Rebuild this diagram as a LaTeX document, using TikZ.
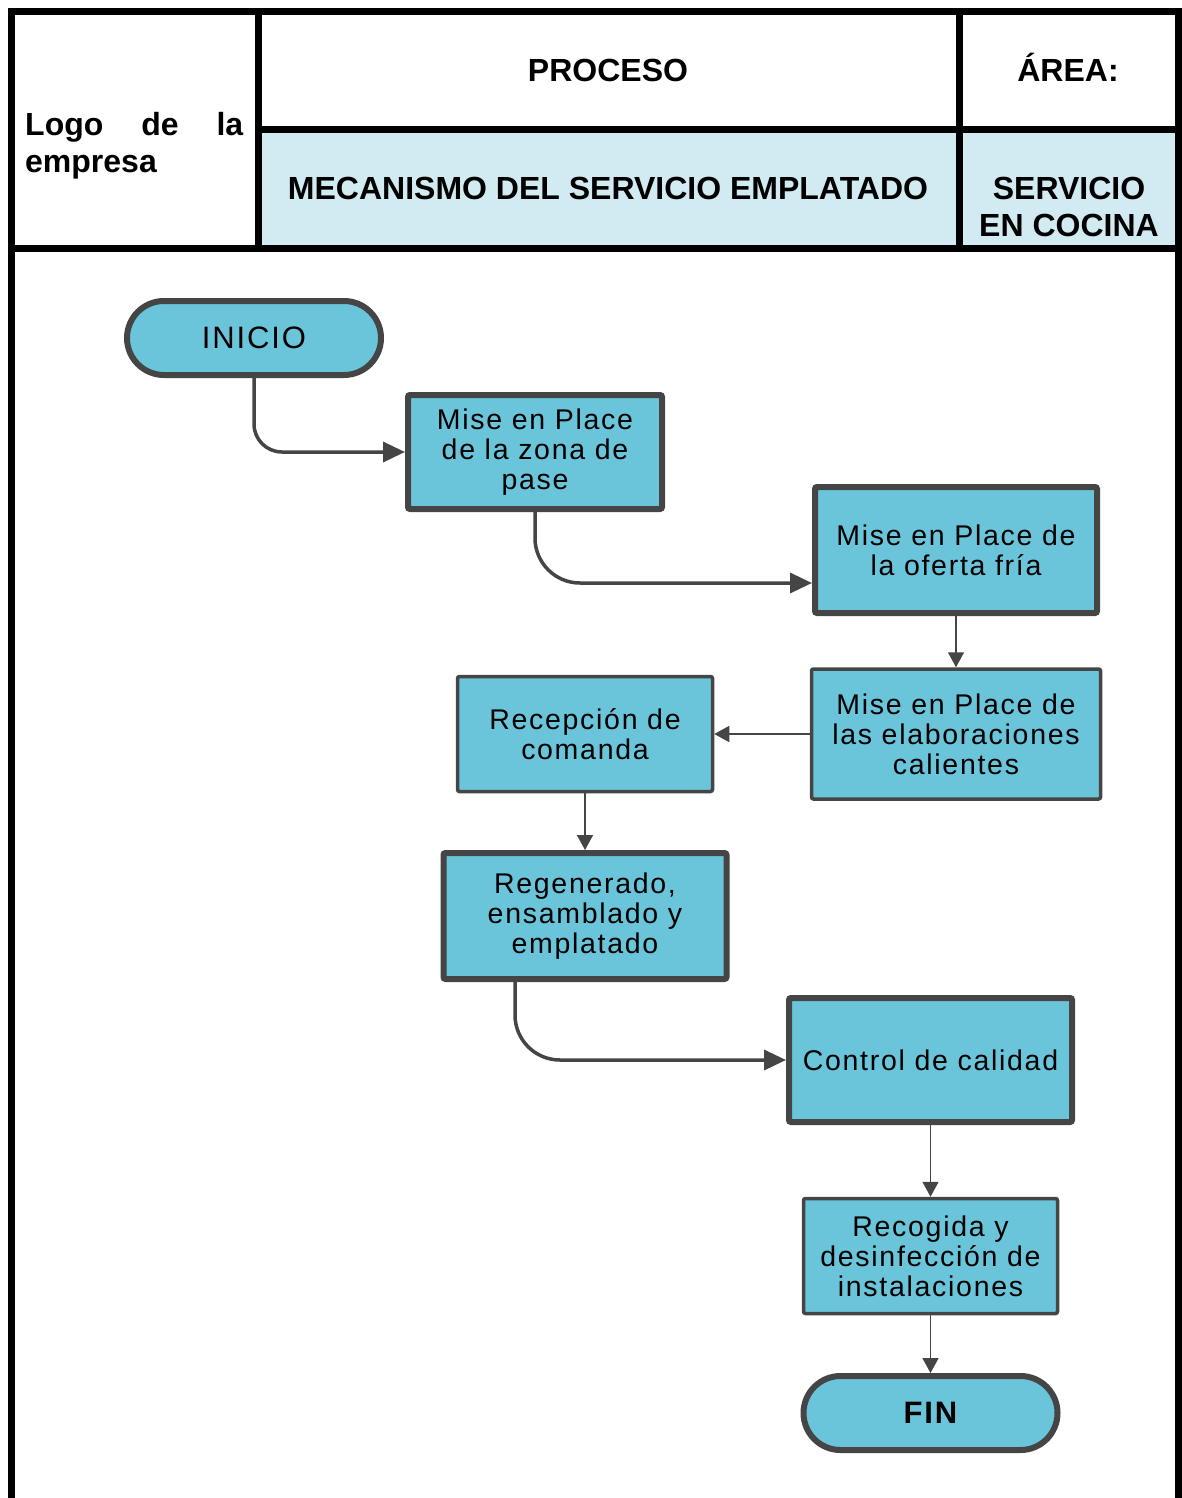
\documentclass[tikz,border=0pt]{standalone}
\usepackage{fontspec}
\setmainfont{Liberation Sans}
\newfontfamily\boxfont[LetterSpace=6]{Liberation Sans}
\usetikzlibrary{arrows.meta}
\definecolor{boxfill}{RGB}{106,196,218}
\definecolor{edge}{RGB}{69,69,69}
\definecolor{hdrfill}{RGB}{210,234,241}
\begin{document}
\begin{tikzpicture}[x=1pt,y=-1pt,
  frameline/.style={line width=7pt,black},
  hdr/.style={font=\bfseries\fontsize{32}{37}\selectfont,inner sep=0pt,align=center},
  proc/.style={draw=edge,fill=boxfill,rounded corners=2pt,align=center,inner sep=0pt,
     font=\boxfont\fontsize{28.5}{30}\selectfont},
  thickbox/.style={proc,line width=6pt},
  thinbox/.style={proc,line width=3.5pt},
  term/.style={draw=edge,fill=boxfill,line width=6pt,rounded corners=37pt,inner sep=0pt,
     minimum width=254pt,minimum height=74pt,font=\boxfont\fontsize{31}{34}\selectfont},
  bigconn/.style={draw=edge,line width=3.5pt,-{Triangle[length=22pt,width=20pt]}},
  smallconn/.style={draw=edge,line width=1.5pt,-{Triangle[length=15pt,width=16pt]}}
]
\useasboundingbox (0,0) rectangle (1181,1498);
% header
\fill[hdrfill] (258,130) rectangle (1178,248);
\draw[frameline] (11,8) -- (11,1498);
\draw[frameline] (1178,8) -- (1178,1498);
\draw[frameline] (7.5,11.5) -- (1181,11.5);
\draw[frameline] (7.5,248) -- (1181,248);
\draw[frameline] (258,11.5) -- (258,248);
\draw[frameline] (959,11.5) -- (959,248);
\draw[frameline] (258,130) -- (1178,130);
\node[hdr,anchor=base west] (logoa) at (25,136) {\makebox[218pt][s]{Logo de la}};
\node[hdr,anchor=base west] (logob) at (25,173) {empresa};
\node[hdr,anchor=base] (proceso) at (608,81.5) {PROCESO};
\node[hdr,anchor=base] (area) at (1068,81.5) {ÁREA:};
\node[hdr] (mec) at (608,188) {MECANISMO DEL SERVICIO EMPLATADO};
\node[hdr] (serv) at (1069,207) {SERVICIO\\EN COCINA};
% flowchart
\node[term] (inicio) at (254,338) {INICIO};
\node[thickbox,minimum width=254pt,minimum height=114pt] (b1) at (535,452) {Mise en Place\\de la zona de\\pase};
\node[thickbox,minimum width=282pt,minimum height=126pt] (b2) at (956,550) {Mise en Place de\\la oferta fría};
\node[thinbox,minimum width=289pt,minimum height=130pt] (b3) at (956,734) {Mise en Place de\\las elaboraciones\\calientes};
\node[thinbox,minimum width=255pt,minimum height=115pt] (b4) at (585,734) {Recepción de\\comanda};
\node[thickbox,minimum width=283pt,minimum height=126pt] (b5) at (585,916) {Regenerado,\\ensamblado y\\emplatado};
\node[thickbox,minimum width=283pt,minimum height=124pt] (b6) at (930.5,1060) {Control de calidad};
\node[thinbox,minimum width=254pt,minimum height=115pt] (b7) at (930.5,1256) {Recogida y\\desinfección de\\instalaciones};
\node[term,font=\boxfont\bfseries\fontsize{31}{34}\selectfont] (fin) at (930.5,1413) {FIN};
% connectors
\draw[bigconn,rounded corners=28pt] (inicio.south) |- (b1.west);
\draw[bigconn,rounded corners=45pt] (b1.south) |- ([yshift=-33pt]b2.west);
\draw[smallconn] (b2.south) -- (b3.north);
\draw[smallconn] (b3.west) -- (b4.east);
\draw[smallconn] (b4.south) -- (b5.north);
\draw[bigconn,rounded corners=45pt] ([xshift=-70pt]b5.south) |- (b6.west);
\draw[smallconn] (b6.south) -- (b7.north);
\draw[smallconn] (b7.south) -- (fin.north);
\end{tikzpicture}
\end{document}
